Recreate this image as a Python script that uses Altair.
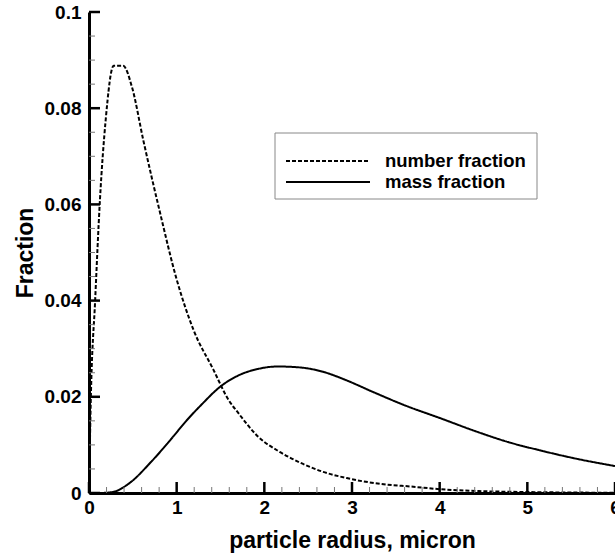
import altair as alt
import pandas as pd

# number fraction curve (dashed)
num_r = [0.0, 0.02, 0.07, 0.125, 0.19, 0.28, 0.39, 0.49, 0.62, 0.81, 1.0, 1.19, 1.42,
         1.59, 1.70, 1.93, 2.18, 2.41, 2.67, 2.94, 3.32, 3.7, 4.0, 4.45, 5.0, 5.5, 6.0]
num_f = [0.0, 0.019, 0.040, 0.061, 0.0775, 0.0888, 0.0888, 0.0844, 0.0733, 0.0583, 0.0444,
         0.034, 0.0256, 0.0194, 0.0167, 0.0117, 0.0085, 0.0063, 0.0044, 0.0031, 0.0019,
         0.0013, 0.0008, 0.0004, 0.0002, 0.0001, 0.00005]

# mass fraction curve (solid)
mass_r = [0.0, 0.1, 0.27, 0.45, 0.72, 0.95, 1.10, 1.29, 1.49, 1.70, 1.93, 2.15, 2.41, 2.67,
          2.94, 3.24, 3.62, 4.0, 4.4, 4.78, 5.16, 5.54, 6.0]
mass_f = [0.0, 0.0, 0.0002, 0.0019, 0.0067, 0.0115, 0.0148, 0.0185, 0.022, 0.0244, 0.0258,
          0.0263, 0.0261, 0.0252, 0.0234, 0.0210, 0.0181, 0.0156, 0.0129, 0.0106, 0.0088,
          0.0072, 0.0056]

series_names = ["number fraction", "mass fraction"]

x_major = [0, 1, 2, 3, 4, 5, 6]
x_minor = [0.2, 0.4, 0.6, 0.8, 1.2, 1.4, 1.6, 1.8, 2.2, 2.4, 2.6, 2.8, 3.2, 3.4, 3.6, 3.8,
           4.2, 4.4, 4.6, 4.8, 5.2, 5.4, 5.6, 5.8]
y_major = [0, 0.02, 0.04, 0.06, 0.08, 0.1]
y_minor = [0.005, 0.01, 0.015, 0.025, 0.03, 0.035, 0.045, 0.05, 0.055, 0.065, 0.07, 0.075,
           0.085, 0.09, 0.095]

df = pd.concat([
    pd.DataFrame({"r": num_r, "f": num_f, "series": series_names[0]}),
    pd.DataFrame({"r": mass_r, "f": mass_f, "series": series_names[1]}),
])

W, H = 526, 481
FONT = "Liberation Sans"

xscale = alt.Scale(domain=[0, 6], nice=False, zero=False)
yscale = alt.Scale(domain=[0, 0.1], nice=False)

lines = alt.Chart(df).mark_line(color="black", strokeWidth=2, clip=True, interpolate="monotone").encode(
    x=alt.X("r:Q", scale=xscale, title="particle radius, micron",
            axis=alt.Axis(values=x_major, format="d", ticks=False, tickSize=0, grid=False,
                          labelPadding=5, titlePadding=12)),
    y=alt.Y("f:Q", scale=yscale, title="Fraction",
            axis=alt.Axis(values=y_major, format="~g", ticks=False, tickSize=0, grid=False,
                          labelPadding=8, titlePadding=7)),
    strokeDash=alt.StrokeDash(
        "series:N",
        scale=alt.Scale(domain=series_names, range=[[4, 2], [1, 0]]),
        legend=None,
    ),
    order=alt.Order("r:Q"),
)

xmaj = alt.Chart(pd.DataFrame({"r": x_major})).mark_rule(color="black", strokeWidth=2.5).encode(
    x=alt.X("r:Q", scale=xscale), y=alt.value(H), y2=alt.value(H - 11))
xmin = alt.Chart(pd.DataFrame({"r": x_minor})).mark_rule(color="#777777", strokeWidth=1).encode(
    x=alt.X("r:Q", scale=xscale), y=alt.value(H), y2=alt.value(H - 6))
ymaj = alt.Chart(pd.DataFrame({"f": y_major})).mark_rule(color="black", strokeWidth=2.5).encode(
    y=alt.Y("f:Q", scale=yscale), x=alt.value(0), x2=alt.value(11))
ymin = alt.Chart(pd.DataFrame({"f": y_minor})).mark_rule(color="#777777", strokeWidth=1).encode(
    y=alt.Y("f:Q", scale=yscale), x=alt.value(0), x2=alt.value(6))

# legend box, drawn by hand
leg_box = alt.Chart(pd.DataFrame({"k": [0]})).mark_rect(
    fill="white", stroke="#888888", strokeWidth=1).encode(
    x=alt.value(186), x2=alt.value(448), y=alt.value(121), y2=alt.value(187))
leg_sym1 = alt.Chart(pd.DataFrame({"series": [series_names[0]]})).mark_rule(
    color="black", strokeWidth=2, strokeDash=[4, 2]).encode(
    x=alt.value(197), x2=alt.value(281), y=alt.value(149))
leg_sym2 = alt.Chart(pd.DataFrame({"series": [series_names[1]]})).mark_rule(
    color="black", strokeWidth=2).encode(
    x=alt.value(197), x2=alt.value(281), y=alt.value(170))
leg_txt1 = alt.Chart(pd.DataFrame({"series": [series_names[0]]})).mark_text(
    align="left", baseline="middle", font=FONT, fontWeight="bold", fontSize=18.5, color="black").encode(
    text="series:N", x=alt.value(296), y=alt.value(149))
leg_txt2 = alt.Chart(pd.DataFrame({"series": [series_names[1]]})).mark_text(
    align="left", baseline="middle", font=FONT, fontWeight="bold", fontSize=18.5, color="black").encode(
    text="series:N", x=alt.value(296), y=alt.value(170))

chart = alt.layer(lines, xmin, xmaj, ymin, ymaj, leg_box, leg_sym1, leg_sym2, leg_txt1, leg_txt2).properties(
    width=W, height=H,
    autosize=alt.AutoSizeParams(type="none"),
    padding={"left": 89, "top": 12, "right": 0, "bottom": 64},
    background="white",
).configure_view(stroke=None).configure_axis(
    domainColor="black", domainWidth=3,
    labelFont=FONT, labelFontWeight="bold", labelFontSize=19, labelColor="black",
    titleFont=FONT, titleFontWeight="bold", titleFontSize=23, titleColor="black",
    labelFlush=False, labelOverlap=False,
)

chart.save("out.html", embed_options={"renderer": "svg", "actions": False})
